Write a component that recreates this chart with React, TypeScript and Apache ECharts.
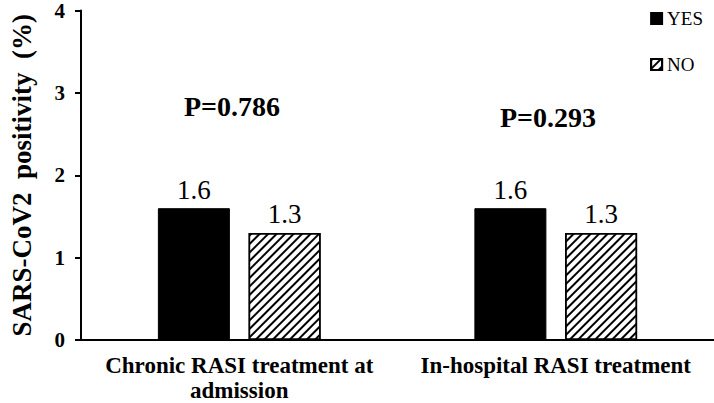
import React, { useEffect, useRef } from "react";
import * as echarts from "echarts";

const categories = ["Chronic RASI treatment at\nadmission", "In-hospital RASI treatment"];
const yesValues = [1.6, 1.6];
const noValues = [1.3, 1.3];
const pValues = ["P=0.786", "P=0.293"];
const yTicks = [0, 1, 2, 3, 4];

export default function App() {
  const ref = useRef<HTMLDivElement>(null);
  useEffect(() => {
    if (!ref.current) return;
    const chart = echarts.init(ref.current, null, { renderer: "svg" });
    const serif = "'Liberation Serif', 'Times New Roman', serif";
    const barLabel = {
      show: true,
      position: "top",
      distance: 5,
      color: "#000",
      fontFamily: serif,
      fontSize: 27,
      formatter: (p: any) => p.value.toFixed(1),
    };
    chart.setOption({
      animation: false,
      textStyle: { fontFamily: serif },
      grid: { left: 70, right: -2, top: 8, bottom: 63, containLabel: false },
      legend: {
        orient: "vertical",
        right: 6,
        top: 4,
        itemGap: 27,
        itemWidth: 11,
        itemHeight: 11,
        icon: "rect",
        textStyle: { fontFamily: serif, fontSize: 19, color: "#000" },
        data: ["YES", "NO"],
      },
      xAxis: {
        type: "category",
        data: categories,
        axisLine: { lineStyle: { color: "#000", width: 2 } },
        axisTick: { show: false },
        axisLabel: {
          color: "#000",
          fontFamily: serif,
          fontWeight: "bold",
          fontSize: 23,
          margin: 13,
          lineHeight: 25,
          interval: 0,
        },
      },
      yAxis: {
        type: "value",
        min: yTicks[0],
        max: yTicks[yTicks.length - 1],
        interval: 1,
        name: "SARS-CoV2  positivity  (%)",
        nameLocation: "middle",
        nameGap: 46,
        nameTextStyle: { color: "#000", fontFamily: serif, fontWeight: "bold", fontSize: 27 },
        axisLine: { show: true, lineStyle: { color: "#000", width: 2 } },
        axisTick: { show: true, length: 6, lineStyle: { color: "#000", width: 2 } },
        splitLine: { show: false },
        axisLabel: { color: "#000", fontFamily: serif, fontWeight: "bold", fontSize: 21, margin: 16 },
      },
      series: [
        {
          name: "YES",
          type: "bar",
          data: yesValues,
          barWidth: 72,
          barGap: "26%",
          itemStyle: { color: "#000", borderColor: "#000", borderWidth: 1 },
          label: barLabel,
        },
        {
          name: "NO",
          type: "bar",
          data: noValues,
          barWidth: 72,
          itemStyle: {
            color: "#fff",
            borderColor: "#000",
            borderWidth: 1.5,
            decal: {
              symbol: "rect",
              color: "#000",
              dashArrayX: [1, 0],
              dashArrayY: [1.5, 3.5],
              rotation: -Math.PI / 4,
              symbolSize: 1,
            },
          },
          label: barLabel,
        },
      ],
      graphic: [
        {
          type: "text",
          left: 184,
          top: 92,
          style: { text: pValues[0], fontFamily: serif, fontWeight: "bold", fontSize: 28, fill: "#000" },
        },
        {
          type: "text",
          left: 500,
          top: 103,
          style: { text: pValues[1], fontFamily: serif, fontWeight: "bold", fontSize: 28, fill: "#000" },
        },
      ],
    });
    return () => chart.dispose();
  }, []);
  return (
    <div
      ref={ref}
      style={{ position: "absolute", left: 0, top: 0, width: 714, height: 403 }}
    />
  );
}
